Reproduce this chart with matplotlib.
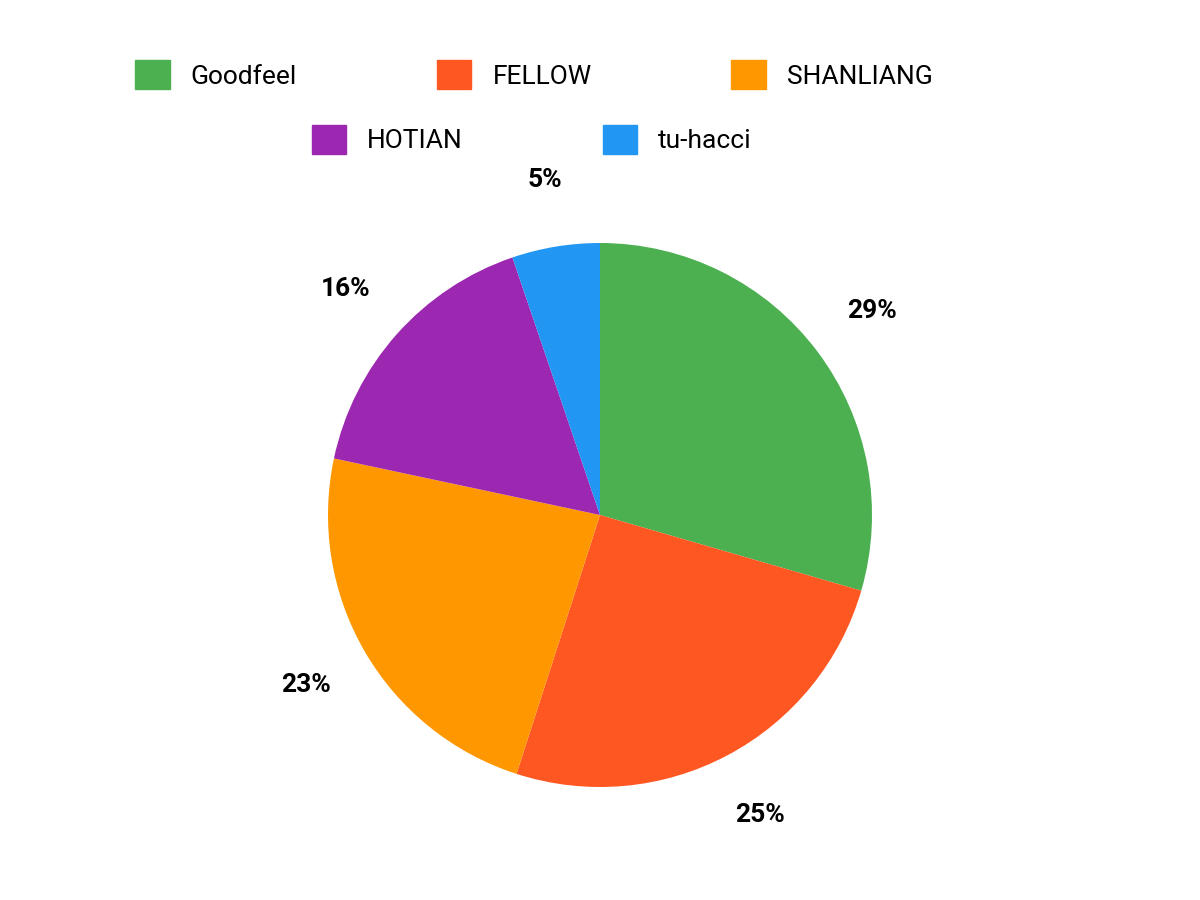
import matplotlib.pyplot as plt
from matplotlib.patches import Patch

labels = ["Goodfeel", "FELLOW", "SHANLIANG", "HOTIAN", "tu-hacci"]
values = [29.4, 25.4, 23.3, 16.4, 5.2]
colors = ["#4CAF50", "#FF5722", "#FF9800", "#9C27B0", "#2196F3"]

plt.rcParams['font.family'] = ['Roboto', 'DejaVu Sans']
fig = plt.figure(figsize=(12, 9), dpi=100)
ax = fig.add_axes([0.5 - 272/1200, (900-515-272)/900, 544/1200, 544/900])
wedges, texts, autotexts = ax.pie(values, colors=colors, startangle=90, counterclock=False,
       autopct=lambda p: f"{p:.0f}%", pctdistance=1.25,
       textprops=dict(fontsize=19, fontweight='bold', color='black'))
ax.set_xlim(-1, 1)
ax.set_ylim(-1, 1)
ax.set_aspect('equal')
handles = [Patch(color=c) for c in colors]
fig.legend(handles[:3], labels[:3], loc='center', bbox_to_anchor=(0.445, 0.917), ncol=3,
           frameon=False, fontsize=19, handlelength=1.3, handleheight=1.3, columnspacing=5.3)
fig.legend(handles[3:], labels[3:], loc='center', bbox_to_anchor=(0.443, 0.845), ncol=2,
           frameon=False, fontsize=19, handlelength=1.3, handleheight=1.3, columnspacing=5.3)
fig.savefig("out.png")
